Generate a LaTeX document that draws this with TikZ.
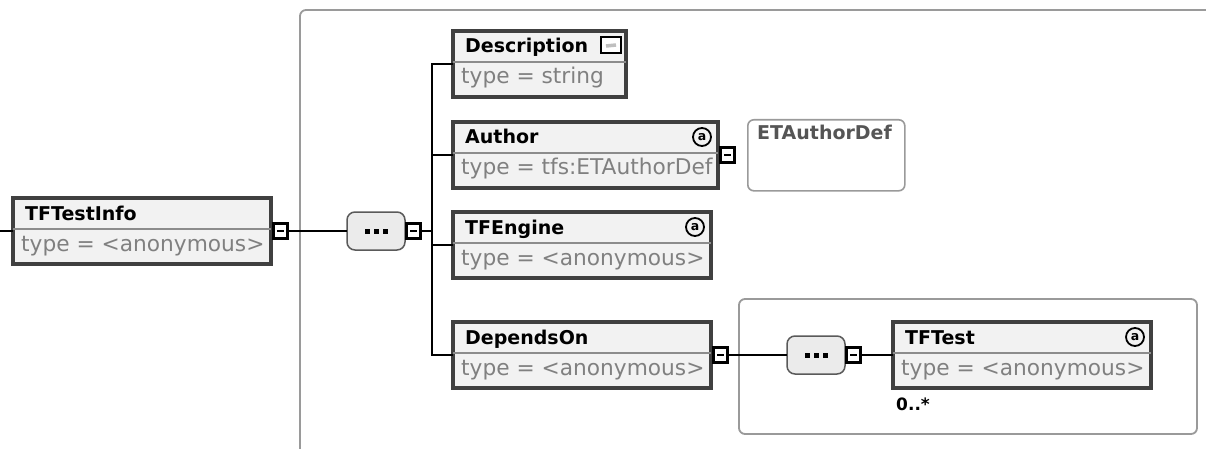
\documentclass[tikz,border=0pt]{standalone}
\usepackage{fontspec}
\setmainfont{DejaVu Sans}
\definecolor{boxborder}{HTML}{404040}
\definecolor{boxfill}{HTML}{F2F2F2}
\definecolor{divcol}{HTML}{8C8C8C}
\definecolor{typecol}{HTML}{808080}
\definecolor{seqborder}{HTML}{5A5A5A}
\definecolor{seqfill}{HTML}{EBEBEB}
\definecolor{groupcol}{HTML}{9A9A9A}
\definecolor{reftext}{HTML}{555555}
\tikzset{
 elem/.style={draw=boxborder, line width=3.2pt, fill=boxfill, inner sep=0pt, outer sep=0pt, anchor=north west},
 divider/.style={draw=divcol, line width=2pt},
 titletxt/.style={font=\fontsize{19}{21}\selectfont\bfseries, inner sep=0pt, anchor=base west},
 typetxt/.style={font=\fontsize{21.7}{24}\selectfont, text=typecol, inner sep=0pt, anchor=base west},
 minusbox/.style={draw=black, line width=2.4pt, fill=white, minimum width=14pt, minimum height=15pt, inner sep=0pt, outer sep=0pt},
 seqbox/.style={draw=seqborder, line width=1.5pt, fill=seqfill, rounded corners=8pt, minimum width=58pt, minimum height=38pt, inner sep=0pt, outer sep=0pt},
 conn/.style={draw=black, line width=1.6pt},
 busline/.style={draw=black, line width=2pt},
 group/.style={draw=groupcol, line width=1.8pt, rounded corners=6pt},
 atcirc/.style={circle, draw=black, line width=1.8pt, minimum size=18pt, inner sep=0pt, font=\fontsize{12.5}{12.5}\selectfont\bfseries},
 seqdot/.style={fill=black, minimum size=5pt, inner sep=0pt},
}
% #1 name, #2 x, #3 y(top), #4 width, #5 title, #6 type
\newcommand\elembox[6]{%
 \node[elem, minimum width=#4pt, minimum height=66pt] (#1) at (#2,#3) {};
 \draw[divider] ([yshift=-31pt]#1.north west) -- ([yshift=-31pt]#1.north east);
 \node[titletxt] (#1-t) at ([xshift=12pt,yshift=-22pt]#1.north west) {#5};
 \node[typetxt] (#1-y) at ([xshift=8pt,yshift=-53pt]#1.north west) {#6};
}
\newcommand\minusnode[2]{%
 \node[minusbox, anchor=west] (#1) at (#2) {};
 \draw[black, line width=2pt] ([xshift=-3.5pt]#1.center) -- ([xshift=3.5pt]#1.center);
}
\newcommand\seqnode[2]{%
 \node[seqbox] (#1) at (#2) {};
 \node[seqdot] (#1-d1) at ([xshift=-9pt]#1.center) {};
 \node[seqdot] (#1-d2) at (#1.center) {};
 \node[seqdot] (#1-d3) at ([xshift=9pt]#1.center) {};
}
\newcommand\atnode[1]{%
 \node[atcirc] (#1-at) at ([xshift=-16pt,yshift=-15pt]#1.north east) {a};
}
\begin{document}
\begin{tikzpicture}[x=1pt,y=-1pt]
\useasboundingbox (0,0) rectangle (1206,449);
\clip (0,0) rectangle (1206,449);
\fill[white] (0,0) rectangle (1206,449);

% groups
\draw[group] (300,10) rectangle (1240,480);
\draw[group] (739,299) rectangle (1197,434);

% root element
\elembox{tfi}{13}{198}{258}{TFTestInfo}{type = <anonymous>}
\coordinate (stub) at (0,231);
\draw[conn] (stub) -- (tfi.west);
\minusnode{tfim}{[xshift=2.5pt]tfi.east}

% sequence 1
\seqnode{seq1}{376,231}
\minusnode{seq1m}{[xshift=1.5pt]seq1.east}
\draw[conn] (tfim.east) -- (seq1.west);

% children
\elembox{desc}{453}{31}{173}{Description}{type = string}
\node[draw=black, line width=1.8pt, fill=white, minimum width=20pt, minimum height=16pt, inner sep=0pt] (desc-i) at (611,45) {};
\draw[lightgray, line width=3.5pt] ([xshift=-5pt,yshift=-1pt]desc-i.center) -- ([xshift=5pt,yshift=0pt]desc-i.center);

\elembox{auth}{453}{122}{265}{Author}{type = tfs:ETAuthorDef}
\atnode{auth}
\minusnode{authm}{[xshift=2.5pt]auth.east}
\node[draw=groupcol, line width=1.6pt, fill=white, rounded corners=6pt, minimum width=157pt, minimum height=71pt, anchor=north west] (etad) at (747,119) {};
\node[font=\fontsize{19}{21}\selectfont\bfseries, text=reftext, inner sep=0pt, anchor=base west] (etad-t) at ([xshift=10pt,yshift=-21pt]etad.north west) {ETAuthorDef};

\elembox{eng}{453}{212}{258}{TFEngine}{type = <anonymous>}
\atnode{eng}

\elembox{dep}{453}{322}{258}{DependsOn}{type = <anonymous>}
\minusnode{depm}{[xshift=2.5pt]dep.east}

% bus
\coordinate (bus) at (432,0);
\draw[busline] (desc.west) -- (desc.west -| bus) -- (dep.west -| bus) -- (dep.west);
\draw[conn] (auth.west) -- (auth.west -| bus);
\draw[conn] (eng.west) -- (eng.west -| bus);
\draw[conn] (seq1m.east) -- (seq1m.east -| bus);

% sequence 2
\seqnode{seq2}{816,355}
\minusnode{seq2m}{[xshift=1.5pt]seq2.east}
\draw[conn] (depm.east) -- (seq2.west);

\elembox{tft}{893}{322}{258}{TFTest}{type = <anonymous>}
\atnode{tft}
\draw[conn] (seq2m.east) -- (tft.west);
\node[font=\fontsize{17}{18}\selectfont\bfseries, inner sep=0pt, anchor=base west] (tft-card) at (896,410) {0..*};
\end{tikzpicture}
\end{document}
